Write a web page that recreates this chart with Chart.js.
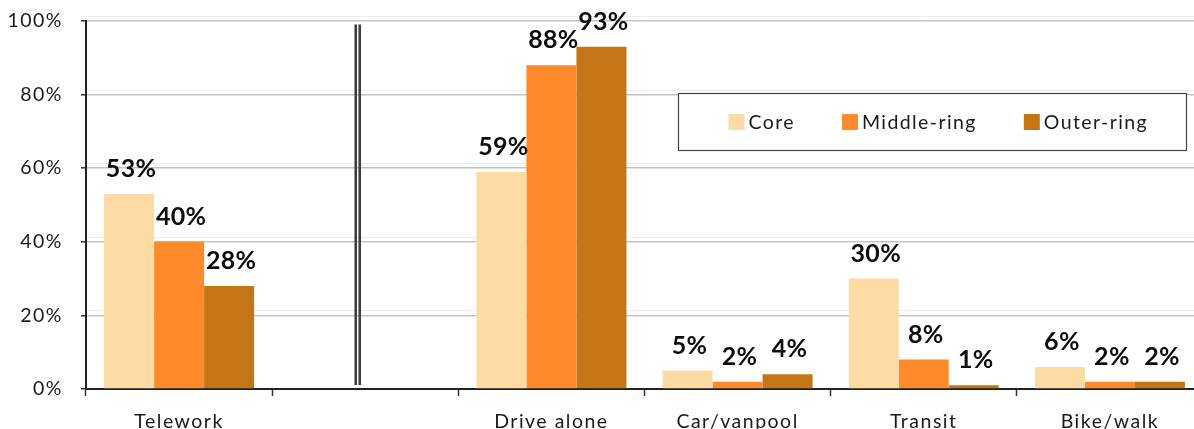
<!DOCTYPE html>
<html>
<head>
<meta charset="utf-8">
<script src="https://cdn.jsdelivr.net/npm/chart.js@4.4.1/dist/chart.umd.min.js"></script>
<style>
  html, body { margin: 0; padding: 0; background: #fff; overflow: hidden; }
  .chart-wrap { position: relative; width: 1210px; height: 429px; }
</style>
</head>
<body>
<div class="chart-wrap"><canvas id="modeChart" width="1210" height="429"></canvas></div>
<script>
const categories = ["Telework", "", "Drive alone", "Car/vanpool", "Transit", "Bike/walk"];
const coreShare = [53, null, 59, 5, 30, 6];
const middleRingShare = [40, null, 88, 2, 8, 2];
const outerRingShare = [28, null, 93, 4, 1, 2];
const yTicks = [0, 20, 40, 60, 80, 100];

const INK = "#1a1a1a";
const FONT = "Lato";

// bold value labels above each bar
const valueLabels = {
  id: "valueLabels",
  afterDatasetsDraw(chart) {
    const { ctx } = chart;
    ctx.save();
    ctx.letterSpacing = "0.3px";
    ctx.font = `bold 25px ${FONT}`;
    ctx.fillStyle = "#0d0d0d";
    ctx.textAlign = "center";
    ctx.textBaseline = "alphabetic";
    chart.data.datasets.forEach((ds, i) => {
      chart.getDatasetMeta(i).data.forEach((bar, j) => {
        const v = ds.data[j];
        if (v == null) return;
        ctx.fillText(v + "%", bar.x + 2, bar.y - 17);
      });
    });
    ctx.restore();
  },
};

// pale second line above each gridline (3D look of the original)
const gridShadow = {
  id: "gridShadow",
  beforeDatasetsDraw(chart) {
    const { ctx, chartArea, scales } = chart;
    ctx.save();
    ctx.strokeStyle = "#ececec";
    ctx.lineWidth = 1;
    scales.y.ticks.forEach((t) => {
      if (t.value === 0) return;
      const y = Math.round(scales.y.getPixelForValue(t.value)) - 4.5;
      ctx.beginPath();
      ctx.moveTo(chartArea.left + 2, y);
      ctx.lineTo(chartArea.right, y);
      ctx.stroke();
    });
    ctx.restore();
  },
};

// double break line in the empty slot + boxed legend
const extras = {
  id: "extras",
  beforeDraw(chart) {
    chart.ctx.letterSpacing = "1.5px";
  },
  afterDraw(chart) {
    const { ctx, chartArea, scales } = chart;
    ctx.save();
    const cx = scales.x.getPixelForValue(1);
    ctx.strokeStyle = "#3f3f3f";
    ctx.lineWidth = 2.6;
    [-9.5, -5.5].forEach((dx) => {
      ctx.beginPath();
      ctx.moveTo(cx + dx, chartArea.top + 3.5);
      ctx.lineTo(cx + dx, chartArea.bottom - 4);
      ctx.stroke();
    });

    const box = { left: 678.5, top: 93.5, width: 508, height: 57 };
    ctx.fillStyle = "#fff";
    ctx.fillRect(box.left, box.top, box.width, box.height);
    ctx.strokeStyle = "#444";
    ctx.lineWidth = 1.2;
    ctx.strokeRect(box.left, box.top, box.width, box.height);

    ctx.letterSpacing = "1.4px";
    ctx.font = `19.5px ${FONT}`;
    ctx.textBaseline = "middle";
    ctx.textAlign = "left";
    let x = box.left + 50;
    const midY = box.top + box.height / 2;
    chart.data.datasets.forEach((ds) => {
      ctx.fillStyle = ds.backgroundColor;
      ctx.fillRect(x, midY - 8, 16, 16);
      ctx.fillStyle = INK;
      ctx.fillText(ds.label, x + 20, midY + 0.5);
      x += 20 + ctx.measureText(ds.label).width + 47;
    });
    ctx.restore();
  },
};

const barStyle = { barPercentage: 1, categoryPercentage: 0.806, borderWidth: 0 };

new Chart(document.getElementById("modeChart"), {
  type: "bar",
  data: {
    labels: categories,
    datasets: [
      { label: "Core", data: coreShare, backgroundColor: "#fddba5", ...barStyle },
      { label: "Middle-ring", data: middleRingShare, backgroundColor: "#fe8a2b", ...barStyle },
      { label: "Outer-ring", data: outerRingShare, backgroundColor: "#c47617", ...barStyle },
    ],
  },
  options: {
    responsive: false,
    devicePixelRatio: 1,
    animation: false,
    layout: { padding: { top: 21, right: 7, left: 0, bottom: 0 } },
    plugins: { legend: { display: false }, tooltip: { enabled: false } },
    scales: {
      x: {
        ticks: { color: INK, font: { family: FONT, size: 19.5 }, padding: 14, maxRotation: 0, autoSkip: false },
        grid: { drawOnChartArea: false, drawTicks: true, tickLength: 7, tickColor: "#333", tickWidth: 1.5, offset: true },
        border: { display: true, color: "#222", width: 2 },
        afterFit: (s) => { s.height = 40; s.paddingLeft = 0; s.paddingRight = 0; },
      },
      y: {
        min: 0,
        max: 100,
        afterBuildTicks: (s) => { s.ticks = yTicks.map((v) => ({ value: v })); },
        ticks: { color: INK, font: { family: FONT, size: 19.5 }, padding: 18, callback: (v) => v + "%" },
        grid: { color: "#c4c4c4", lineWidth: 1.6, tickColor: "#333", tickLength: 5, tickWidth: 1.5 },
        border: { display: true, color: "#222", width: 2 },
        afterFit: (s) => { s.width = 86; s.paddingTop = 0; s.paddingBottom = 0; },
      },
    },
  },
  plugins: [gridShadow, valueLabels, extras],
});
</script>
</body>
</html>
